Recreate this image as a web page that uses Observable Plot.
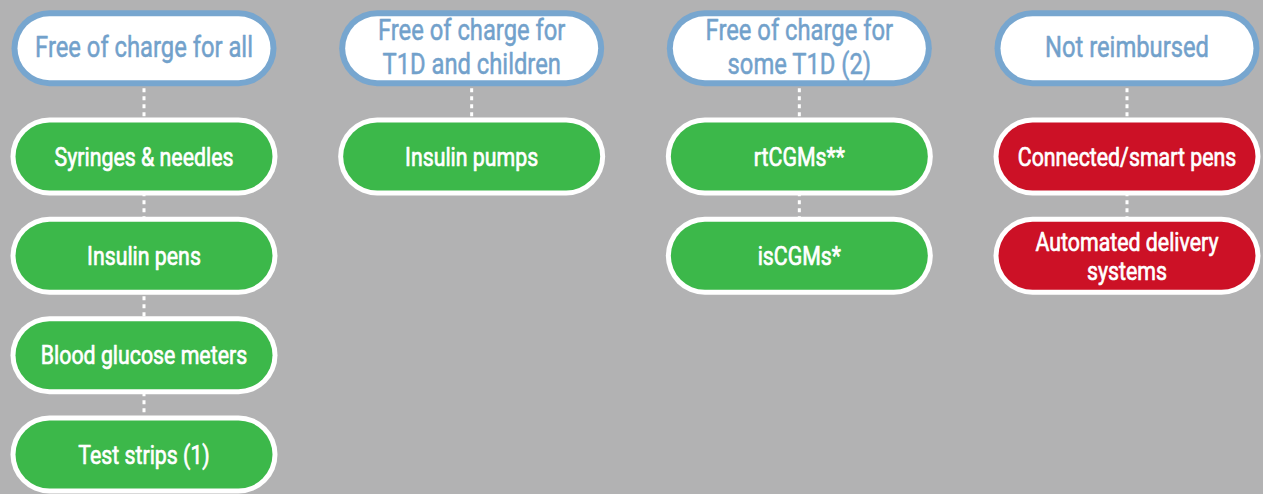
<!DOCTYPE html>
<html>
<head>
<meta charset="utf-8">
<script src="https://cdn.jsdelivr.net/npm/d3@7"></script>
<script src="https://cdn.jsdelivr.net/npm/@observablehq/plot@0.6"></script>
<style>
  html, body { margin: 0; padding: 0; background: #b2b2b3; }
  #chart { width: 1263px; height: 494px; }
  svg text { font-family: Roboto, "Noto Sans", sans-serif; }
</style>
</head>
<body>
<div id="chart"></div>
<script>
// Column headers (reimbursement categories)
const categories = [
  "Free of charge for all",
  "Free of charge for\nT1D and children",
  "Free of charge for\nsome T1D (2)",
  "Not reimbursed"
];
// Devices listed under each category
const devices = [
  ["Syringes & needles", "Insulin pens", "Blood glucose meters", "Test strips (1)"],
  ["Insulin pumps"],
  ["rtCGMs**", "isCGMs*"],
  ["Connected/smart pens", "Automated delivery\nsystems"]
];
// Whether the category is reimbursed
const reimbursed = [true, true, true, false];

// ---- build tables ----
const HEADER_ROW = -1.09;   // header row position on the row axis
const HALF = 0.2884;        // half length of the straight part of a pill (column units)
const headers = categories.map((label, col) => ({label, col, row: HEADER_ROW}));
const items = devices.flatMap((list, col) =>
  list.map((label, row) => ({label, col, row, status: reimbursed[col] ? "reimbursed" : "not reimbursed"})));
const connectors = devices.map((list, col) => ({col, y1: HEADER_ROW, y2: list.length - 1}));

const plot = Plot.plot({
  width: 1263,
  height: 494,
  margin: 0,
  style: {background: "#b2b2b3", overflow: "visible"},
  x: {type: "linear", domain: [0, 3], range: [143.5, 1126.5], axis: null},
  y: {type: "linear", domain: [0, 3], range: [156, 454], axis: null},
  color: {domain: ["reimbursed", "not reimbursed"], range: ["#3cb84a", "#cc1126"]},
  marks: [
    // dotted connectors
    Plot.link(connectors, {
      x1: "col", x2: "col", y1: "y1", y2: "y2",
      stroke: "white", strokeWidth: 3, strokeDasharray: "4,4"
    }),
    // header pills
    Plot.link(headers, {
      x1: d => d.col - HALF, x2: d => d.col + HALF, y1: "row", y2: "row",
      stroke: "#77a6cf", strokeWidth: 76, strokeLinecap: "round"
    }),
    Plot.link(headers, {
      x1: d => d.col - HALF, x2: d => d.col + HALF, y1: "row", y2: "row",
      stroke: "white", strokeWidth: 64, strokeLinecap: "round"
    }),
    Plot.text(headers, {
      x: "col", y: "row", text: "label", className: "hdr",
      fill: "#72a1cb", stroke: "#72a1cb", strokeWidth: 0.5, fontSize: 29, lineHeight: 1.15, dy: -2
    }),
    // device pills
    Plot.link(items, {
      x1: d => d.col - HALF, x2: d => d.col + HALF, y1: "row", y2: "row",
      stroke: "white", strokeWidth: 78, strokeLinecap: "round"
    }),
    Plot.link(items, {
      x1: d => d.col - HALF, x2: d => d.col + HALF, y1: "row", y2: "row",
      stroke: "status", strokeWidth: 68, strokeLinecap: "round"
    }),
    Plot.text(items, {
      x: "col", y: "row", text: "label", className: "itm",
      fill: "white", stroke: "white", strokeWidth: 0.7, fontSize: 26, lineHeight: 1.12
    })
  ]
});
// condense the text horizontally (the original uses a condensed typeface)
d3.select(plot).selectAll("text").each(function () {
  const t = this.getAttribute("transform");
  if (t) this.setAttribute("transform", t + " scale(0.82,1)");
});
document.getElementById("chart").appendChild(plot);
</script>
</body>
</html>
